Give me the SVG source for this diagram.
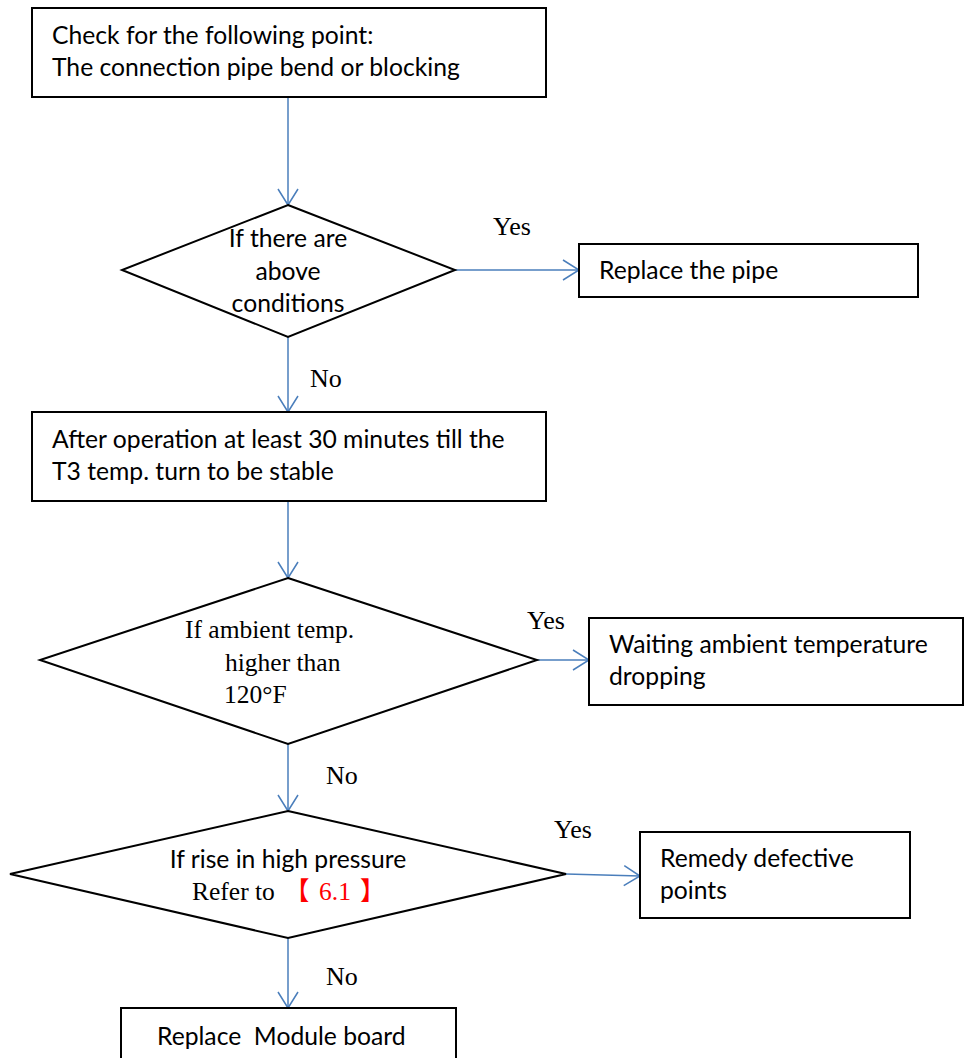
<svg xmlns="http://www.w3.org/2000/svg" width="964" height="1058" viewBox="0 0 964 1058">
<style>
.box{fill:#fff;stroke:#000;stroke-width:2}
.sans{font-family:Lato,"Noto Sans","Liberation Sans",sans-serif;font-size:24.7px;fill:#000}
.serif{font-family:"Liberation Serif","Times New Roman",serif;font-size:25.5px;fill:#000}
.lbl{font-family:"Liberation Serif","Times New Roman",serif;font-size:26px;fill:#000}
.red{fill:#ff0000}
.cjk{font-family:"Noto Sans CJK SC",sans-serif}
.conn{fill:none;stroke:#4a7ebb;stroke-width:1.5}
</style>
<defs>
<marker id="arr" markerUnits="userSpaceOnUse" markerWidth="20" markerHeight="24" refX="18" refY="12" orient="auto">
<path d="M2,2 L18,12 L2,22" fill="none" stroke="#4a7ebb" stroke-width="1.5"/>
</marker>
</defs>
<rect width="964" height="1058" fill="#fff"/>
<g id="connectors">
<line class="conn" x1="288" y1="97" x2="288" y2="205" marker-end="url(#arr)"/>
<line class="conn" x1="455" y1="270" x2="579" y2="270" marker-end="url(#arr)"/>
<line class="conn" x1="288" y1="337" x2="288" y2="412" marker-end="url(#arr)"/>
<line class="conn" x1="288" y1="501" x2="288" y2="578" marker-end="url(#arr)"/>
<line class="conn" x1="537" y1="660" x2="589" y2="660" marker-end="url(#arr)"/>
<line class="conn" x1="288" y1="744" x2="288" y2="811" marker-end="url(#arr)"/>
<line class="conn" x1="566" y1="874" x2="640" y2="876" marker-end="url(#arr)"/>
<line class="conn" x1="288" y1="938" x2="288" y2="1008" marker-end="url(#arr)"/>
<text class="lbl" x="493" y="235">Yes</text>
<text class="lbl" x="310" y="387">No</text>
<text class="lbl" x="527" y="629">Yes</text>
<text class="lbl" x="326" y="784">No</text>
<text class="lbl" x="554" y="838">Yes</text>
<text class="lbl" x="326" y="985">No</text>
</g>
<g id="n1">
<rect class="box" x="32" y="8" width="514" height="89"/>
<text class="sans" x="52" y="44">Check for the following point:</text>
<text class="sans" x="52" y="76">The connection pipe bend or blocking</text>
</g>
<g id="d1">
<polygon class="box" points="288,205 455,270 288,337 122,270"/>
<text class="sans" x="288" y="247" text-anchor="middle">If there are</text>
<text class="sans" x="288" y="280" text-anchor="middle">above</text>
<text class="sans" x="288" y="312" text-anchor="middle">conditions</text>
</g>
<g id="n2">
<rect class="box" x="579" y="244" width="339" height="53"/>
<text class="sans" x="599" y="279">Replace the pipe</text>
</g>
<g id="n3">
<rect class="box" x="32" y="412" width="514" height="89"/>
<text class="sans" x="52" y="448">After operation at least 30 minutes till the</text>
<text class="sans" x="52" y="480">T3 temp. turn to be stable</text>
</g>
<g id="d2">
<polygon class="box" points="288,578 537,660 288,744 40,660"/>
<text class="serif" x="185" y="638">If ambient temp.</text>
<text class="serif" x="225" y="671">higher than</text>
<text class="serif" x="224" y="703">120°F</text>
</g>
<g id="n4">
<rect class="box" x="589" y="618" width="374" height="87"/>
<text class="sans" x="609" y="653">Waiting ambient temperature</text>
<text class="sans" x="609" y="685">dropping</text>
</g>
<g id="d3">
<polygon class="box" points="288,811 566,874 288,938 10,874"/>
<text class="sans" x="288" y="868" text-anchor="middle">If rise in high pressure</text>
<text class="serif" x="192" y="900">Refer to</text>
<text class="serif red" y="900"><tspan class="cjk" x="284">【</tspan><tspan x="319">6.1</tspan><tspan class="cjk" x="360">】</tspan></text>
</g>
<g id="n5">
<rect class="box" x="640" y="832" width="270" height="86"/>
<text class="sans" x="660" y="867">Remedy defective</text>
<text class="sans" x="660" y="899">points</text>
</g>
<g id="n6">
<rect class="box" x="121" y="1008" width="335" height="60"/>
<text class="sans" x="157" y="1045" xml:space="preserve">Replace  Module board</text>
</g>
</svg>
